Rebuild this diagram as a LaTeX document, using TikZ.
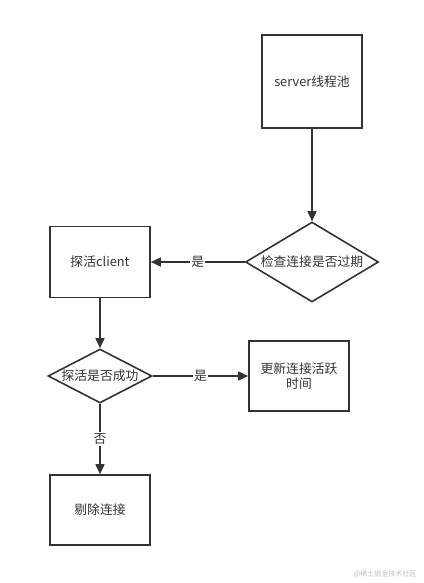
\documentclass[tikz,border=0pt]{standalone}
\usepackage{fontspec}
\setmainfont{Noto Sans CJK SC}
\usetikzlibrary{shapes.geometric,arrows.meta}
\definecolor{ln}{HTML}{333333}
\begin{document}
\begin{tikzpicture}[x=1pt,y=-1pt,
  every node/.style={font=\fontsize{12.8}{15}\selectfont, text=ln},
  box/.style={draw=ln, line width=1.6pt, minimum width=100pt, inner sep=0pt, align=center},
  dia/.style={draw=ln, line width=1.6pt, diamond, inner sep=0pt, aspect=1},
  conn/.style={draw=ln, line width=1.6pt, -{Triangle[length=10pt,width=9pt]}},
  lbl/.style={fill=white, inner sep=1pt}]
\useasboundingbox (0,0) rectangle (423,583);
\node[box, minimum height=93pt] (server) at (312,81.5) {server线程池};
\node[dia, minimum width=133pt, minimum height=80pt] (check) at (312,262) {};
\node at (check.center) {检查连接是否过期};
\node[box, minimum height=71pt] (probe) at (100,262) {探活client};
\node[dia, minimum width=104pt, minimum height=54pt] (ok) at (100,376) {};
\node at (ok.center) {探活是否成功};
\node[box, minimum height=70pt] (update) at (299,376) {更新连接活跃\\时间};
\node[box, minimum height=70pt] (remove) at (100,510) {剔除连接};
\draw[conn] (server.south) -- (check.north);
\draw[conn] (check.west) -- node[lbl] {是} (probe.east);
\draw[conn] (probe.south) -- (ok.north);
\draw[conn] (ok.east) -- node[lbl] {是} (update.west);
\draw[conn] (ok.south) -- node[lbl] {否} (remove.north);
\node[font=\fontsize{7}{8}\selectfont, text=black!25, anchor=east] (wm) at (420,574) {@稀土掘金技术社区};
\end{tikzpicture}
\end{document}
